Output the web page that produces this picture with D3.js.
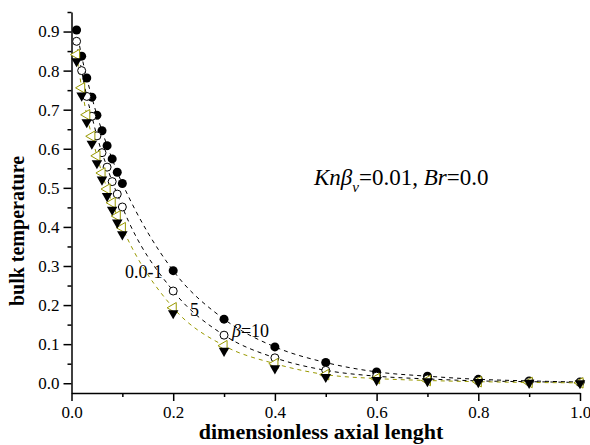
<!DOCTYPE html>
<html>
<head>
<meta charset="utf-8">
<script src="https://cdn.jsdelivr.net/npm/d3@7"></script>
<style>
  body { margin: 0; background: #fff; }
  svg { display: block; font-family: "Liberation Serif", "Times New Roman", serif; }
</style>
</head>
<body>
<svg width="590" height="445"></svg>
<script>
const xValues = [0.01, 0.02, 0.03, 0.04, 0.05, 0.06, 0.07, 0.08, 0.09, 0.1,
  0.2, 0.3, 0.4, 0.5, 0.6, 0.7, 0.8, 0.9, 1.0];

const beta0 = [0.904, 0.837, 0.781, 0.732, 0.686, 0.646, 0.608, 0.574, 0.540, 0.511,
  0.288, 0.164, 0.093, 0.053, 0.029, 0.018, 0.010, 0.006, 0.003];
const beta1 = [0.875, 0.800, 0.734, 0.683, 0.633, 0.590, 0.553, 0.516, 0.484, 0.451,
  0.236, 0.123, 0.065, 0.033, 0.018, 0.011, 0.006, 0.004, 0.002];
const beta5 = [0.841, 0.756, 0.687, 0.632, 0.582, 0.538, 0.497, 0.462, 0.428, 0.398,
  0.193, 0.096, 0.050, 0.022, 0.012, 0.007, 0.004, 0.002, 0.001];
const beta10 = [0.824, 0.736, 0.668, 0.613, 0.563, 0.521, 0.479, 0.444, 0.411, 0.381,
  0.179, 0.083, 0.038, 0.016, 0.008, 0.005, 0.003, 0.001, 0.000];

const xTicks = [0.0, 0.2, 0.4, 0.6, 0.8, 1.0];
const yTicks = [0.0, 0.1, 0.2, 0.3, 0.4, 0.5, 0.6, 0.7, 0.8, 0.9];

const serif = "Liberation Serif, Times New Roman, serif";
const olive = "#999900";
const svg = d3.select("svg");

const x = d3.scaleLinear().domain([0, 1.0]).range([71.5, 580]);
const y = d3.scaleLinear().domain([-0.025, 0.95]).range([393, 12]);

// axes: minor ticks first, then labelled ones
svg.append("g")
  .attr("transform", "translate(0,393)")
  .call(d3.axisBottom(x).tickValues(d3.range(0.1, 1.0, 0.2)).tickSize(4).tickFormat(""))
  .call(g => g.select(".domain").remove());
svg.append("g")
  .attr("transform", "translate(0,393)")
  .call(d3.axisBottom(x).tickValues(xTicks).tickSize(8).tickSizeOuter(0).tickPadding(5).tickFormat(d3.format(".1f")));

svg.append("g")
  .attr("transform", "translate(71.5,0)")
  .call(d3.axisLeft(y).tickValues(d3.range(0.05, 0.96, 0.1)).tickSize(4).tickFormat(""))
  .call(g => g.select(".domain").remove());
svg.append("g")
  .attr("transform", "translate(71.5,0)")
  .call(d3.axisLeft(y).tickValues(yTicks).tickSize(8).tickSizeOuter(0).tickPadding(4).tickFormat(d3.format(".1f")));

svg.selectAll(".domain, .tick line").attr("stroke", "#000").attr("stroke-width", 1.5);
svg.selectAll(".tick text")
  .attr("font-family", serif)
  .attr("font-size", 17)
  .attr("fill", "#000");

// dashed curves
const line = d3.line()
  .x((d, i) => x(xValues[i]))
  .y(d => y(d))
  .curve(d3.curveMonotoneX);

const curves = [
  { values: beta0, color: "#000" },
  { values: beta1, color: "#000" },
  { values: beta5, color: olive }
];

svg.selectAll("path.curve")
  .data(curves)
  .enter()
  .append("path")
  .attr("class", "curve")
  .attr("d", d => line(d.values))
  .attr("fill", "none")
  .attr("stroke", d => d.color)
  .attr("stroke-width", 1)
  .attr("stroke-dasharray", "4,4");

// markers
svg.append("g").selectAll("circle")
  .data(beta0)
  .enter()
  .append("circle")
  .attr("cx", (d, i) => x(xValues[i]))
  .attr("cy", d => y(d))
  .attr("r", 4.5)
  .attr("fill", "#000");

svg.append("g").selectAll("circle")
  .data(beta1)
  .enter()
  .append("circle")
  .attr("cx", (d, i) => x(xValues[i]))
  .attr("cy", d => y(d))
  .attr("r", 4)
  .attr("fill", "#fff")
  .attr("stroke", "#000")
  .attr("stroke-width", 1);

const tri = d3.symbol().type(d3.symbolTriangle).size(48);

svg.append("g").selectAll("path")
  .data(beta5)
  .enter()
  .append("path")
  .attr("d", tri)
  .attr("transform", (d, i) => `translate(${x(xValues[i])},${y(d)}) rotate(-90)`)
  .attr("fill", "#fff")
  .attr("stroke", olive)
  .attr("stroke-width", 1);

svg.append("g").selectAll("path")
  .data(beta10)
  .enter()
  .append("path")
  .attr("d", tri)
  .attr("transform", (d, i) => `translate(${x(xValues[i])},${y(d)}) rotate(180)`)
  .attr("fill", "#000");

// labels
svg.append("text")
  .attr("x", 125).attr("y", 278)
  .attr("font-size", 18)
  .text("0.0-1");

svg.append("text")
  .attr("x", 190).attr("y", 316)
  .attr("font-size", 18)
  .text("5");

const b10 = svg.append("text")
  .attr("x", 232).attr("y", 337)
  .attr("font-size", 18);
b10.append("tspan").attr("font-style", "italic").text("β");
b10.append("tspan").text("=10");

const note = svg.append("text")
  .attr("x", 314).attr("y", 185)
  .attr("font-size", 23);
note.append("tspan").attr("font-style", "italic").text("Knβ");
note.append("tspan").attr("font-style", "italic").attr("font-size", 15).attr("dy", 7).text("v");
note.append("tspan").attr("dy", -7).text("=0.01, ");
note.append("tspan").attr("font-style", "italic").text("Br");
note.append("tspan").text("=0.0");

svg.append("text")
  .attr("x", 321).attr("y", 439)
  .attr("text-anchor", "middle")
  .attr("font-size", 22)
  .attr("font-weight", "bold")
  .text("dimensionless axial lenght");

svg.append("text")
  .attr("transform", "translate(24,231) rotate(-90)")
  .attr("text-anchor", "middle")
  .attr("font-size", 20)
  .attr("font-weight", "bold")
  .text("bulk temperature");
</script>
</body>
</html>
